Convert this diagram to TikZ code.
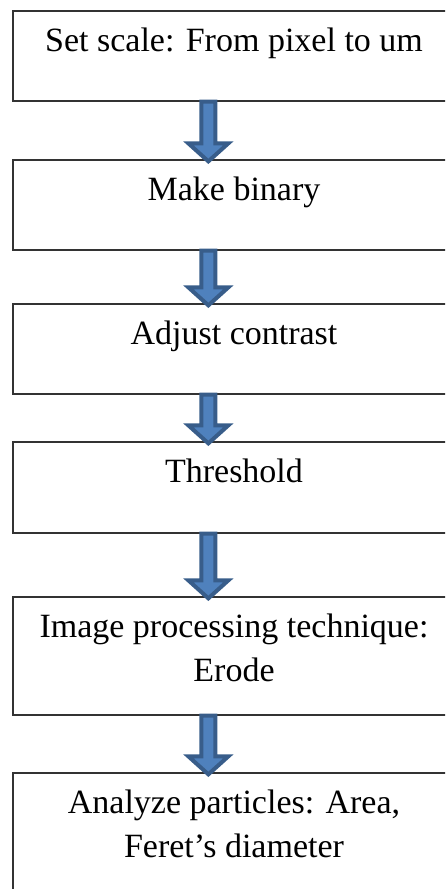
\documentclass[tikz,border=0pt]{standalone}
\usepackage{fontspec}
\setmainfont{Liberation Serif}
\usetikzlibrary{calc}

\definecolor{arrowfill}{RGB}{79,129,189}
\definecolor{arrowline}{RGB}{56,93,138}

\tikzset{
  stepbox/.style={draw=black!80, line width=1.3pt, rectangle, minimum width=442pt, inner sep=0pt},
  steptext/.style={align=center, inner sep=0pt, anchor=base, font=\fontsize{34}{44}\selectfont},
  flowarrow/.style={fill=arrowfill, draw=arrowline, line width=4pt, miter limit=10},
}

% block arrow from the bottom of one box to the top of the next
\newcommand{\steparrow}[2]{%
  \draw[flowarrow] let \p1=($(#1.south west)+(196,0)$), \p2=(#2.north) in
    (\x1-7pt,\y1) -- (\x1+7pt,\y1) -- (\x1+7pt,\y2+16pt) -- (\x1+20pt,\y2+16pt)
    -- (\x1,\y2-2pt) -- (\x1-20pt,\y2+16pt) -- (\x1-7pt,\y2+16pt) -- cycle;}

\begin{document}
\begin{tikzpicture}[x=1pt, y=1pt]
    \useasboundingbox (0,0) rectangle (445,889);
    \clip (0,0) rectangle (445,889);

    % Boxes
    \node[stepbox, minimum height=90pt] (scale) at (234,833) {};
    \node[stepbox, minimum height=90pt] (binary) at (234,684) {};
    \node[stepbox, minimum height=90pt] (contrast) at (234,540) {};
    \node[stepbox, minimum height=91pt] (thresh) at (234,401.5) {};
    \node[stepbox, minimum height=118pt] (erode) at (234,233) {};
    \node[stepbox, minimum height=118pt] (analyze) at (234,57) {};

    % Texts (base = last line)
    \node[steptext] (scaletxt) at ($(scale.north)+(0,-41)$) {Set scale: From pixel to um};
    \node[steptext] (binarytxt) at ($(binary.north)+(0,-41)$) {Make binary};
    \node[steptext] (contrasttxt) at ($(contrast.north)+(0,-41)$) {Adjust contrast};
    \node[steptext] (threshtxt) at ($(thresh.north)+(0,-41)$) {Threshold};
    \node[steptext] (erodetxt) at ($(erode.north)+(0,-85)$) {Image processing technique:\\ Erode};
    \node[steptext] (analyzetxt) at ($(analyze.north)+(0,-85)$) {Analyze particles: Area,\\ Feret’s diameter};

    % Arrows
    \steparrow{scale}{binary}
    \steparrow{binary}{contrast}
    \steparrow{contrast}{thresh}
    \steparrow{thresh}{erode}
    \steparrow{erode}{analyze}
\end{tikzpicture}
\end{document}
